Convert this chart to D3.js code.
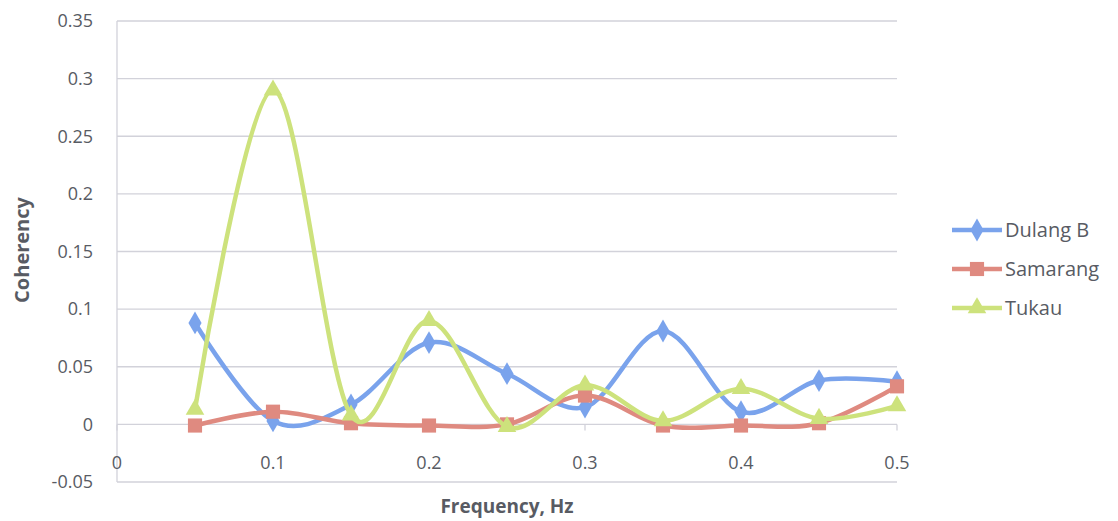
<!DOCTYPE html>
<html>
<head>
<meta charset="utf-8">
<script src="https://cdn.jsdelivr.net/npm/d3@7"></script>
<style>
  body { margin: 0; background: #fff; }
  svg { font-family: "Open Sans", "Noto Sans", sans-serif; }
</style>
</head>
<body>
<div class="content"></div>
<script>
var frequencies = [0.05, 0.1, 0.15, 0.2, 0.25, 0.3, 0.35, 0.4, 0.45, 0.5];
var dulangB = [0.088, 0.003, 0.017, 0.071, 0.044, 0.015, 0.081, 0.011, 0.038, 0.037];
var samarang = [-0.001, 0.011, 0.001, -0.001, 0.000, 0.025, -0.001, -0.001, 0.001, 0.033];
var tukau = [0.013, 0.290, 0.008, 0.090, -0.002, 0.034, 0.003, 0.031, 0.005, 0.016];
var seriesNames = ['Dulang B', 'Samarang', 'Tukau'];
var yTicks = [-0.05, 0, 0.05, 0.1, 0.15, 0.2, 0.25, 0.3, 0.35];
var xTicks = [0, 0.1, 0.2, 0.3, 0.4, 0.5];

var chart = {
    width: 1118,
    height: 521,
    left: 117,
    right: 897,
    top: 21,
    bottom: 482,
    text: '#585b63',
    grid: '#d2d2da',
    colors: ['#7aa3ec', '#df8a80', '#cde27c'],
    shapes: [d3.symbolDiamond, d3.symbolSquare, d3.symbolTriangle]
};

var allSeries = [dulangB, samarang, tukau];

var svg = d3.select('.content').append('svg')
    .attr('width', chart.width)
    .attr('height', chart.height);

var x = d3.scaleLinear().domain([0, 0.5]).range([chart.left, chart.right]);
var y = d3.scaleLinear().domain([-0.05, 0.35]).range([chart.bottom, chart.top]);

// horizontal gridlines
svg.append('g').selectAll('line').data(yTicks).enter().append('line')
    .attr('x1', chart.left).attr('x2', chart.right)
    .attr('y1', function(d) { return y(d); }).attr('y2', function(d) { return y(d); })
    .style('stroke', chart.grid).style('stroke-width', 1.3);

// y axis line
svg.append('line')
    .attr('x1', chart.left).attr('x2', chart.left)
    .attr('y1', chart.top).attr('y2', chart.bottom)
    .style('stroke', chart.grid).style('stroke-width', 1.3);

// y tick labels
svg.append('g').selectAll('text').data(yTicks).enter().append('text')
    .attr('x', 93).attr('y', function(d) { return y(d); })
    .attr('dy', '0.35em')
    .attr('text-anchor', 'end')
    .style('font-size', '18px').style('fill', chart.text)
    .text(function(d) { return d === 0 ? '0' : String(d); });

// x tick marks on the zero line
svg.append('g').selectAll('line').data(xTicks).enter().append('line')
    .attr('x1', function(d) { return x(d); }).attr('x2', function(d) { return x(d); })
    .attr('y1', y(0)).attr('y2', y(0) + 6)
    .style('stroke', chart.grid).style('stroke-width', 1.3);

// x tick labels
svg.append('g').selectAll('text').data(xTicks).enter().append('text')
    .attr('x', function(d) { return x(d); }).attr('y', 463)
    .attr('dy', '0.35em')
    .attr('text-anchor', 'middle')
    .style('font-size', '18px').style('fill', chart.text)
    .text(function(d) { return d === 0 ? '0' : String(d); });

// axis titles
svg.append('text')
    .attr('x', 507).attr('y', 506)
    .attr('dy', '0.35em').attr('text-anchor', 'middle')
    .style('font-size', '19px').style('font-weight', 'bold').style('fill', chart.text)
    .text('Frequency, Hz');

svg.append('text')
    .attr('transform', 'translate(22,250) rotate(-90)')
    .attr('dy', '0.35em').attr('text-anchor', 'middle')
    .style('font-size', '20px').style('font-weight', 'bold').style('fill', chart.text)
    .text('Coherency');

var line = d3.line()
    .x(function(d) { return x(d.f); })
    .y(function(d) { return y(d.v); })
    .curve(d3.curveCatmullRom.alpha(0));

allSeries.forEach(function(values, i) {
    var data = frequencies.map(function(f, j) { return { f: f, v: values[j] }; });
    var g = svg.append('g');
    g.append('path')
        .attr('d', line(data))
        .style('fill', 'none')
        .style('stroke', chart.colors[i])
        .style('stroke-width', 4.5)
        .style('stroke-linejoin', 'round');
    g.selectAll('path.m').data(data).enter().append('path')
        .attr('class', 'm')
        .attr('transform', function(d) { return 'translate(' + x(d.f) + ',' + y(d.v) + ')'; })
        .attr('d', d3.symbol().type(chart.shapes[i]).size(i === 1 ? 200 : 150))
        .style('fill', chart.colors[i]);
});

// legend
var legendY = [230, 269, 308];
seriesNames.forEach(function(name, i) {
    var g = svg.append('g').attr('transform', 'translate(952,' + legendY[i] + ')');
    g.append('line').attr('x1', 0).attr('x2', 50)
        .style('stroke', chart.colors[i]).style('stroke-width', 4.5);
    g.append('path').attr('transform', 'translate(25,0)')
        .attr('d', d3.symbol().type(chart.shapes[i]).size(i === 1 ? 200 : 150))
        .style('fill', chart.colors[i]);
    g.append('text').attr('x', 53).attr('dy', '0.35em')
        .style('font-size', '20px').style('fill', chart.text)
        .text(name);
});
</script>
</body>
</html>
